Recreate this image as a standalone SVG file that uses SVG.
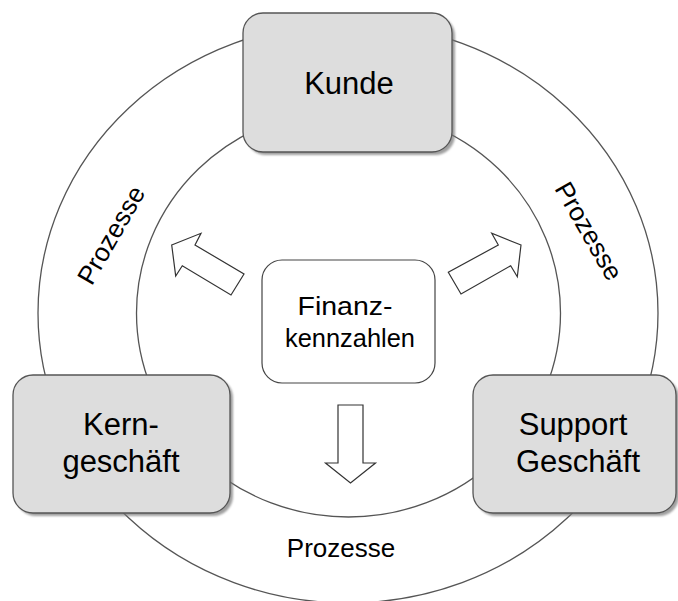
<svg xmlns="http://www.w3.org/2000/svg" width="678" height="601" viewBox="0 0 678 601">
<defs>
<style>
.ring{fill:none;stroke:#555;stroke-width:1.3}
.box{fill:#dddddd;stroke:#555;stroke-width:1.3}
.shadow{fill:#777;opacity:0.7}
.center{fill:#fff;stroke:#444;stroke-width:1.2}
.arrow{fill:#fff;stroke:#333;stroke-width:1.2;stroke-linejoin:miter}
text{font-family:"Liberation Sans",Arial,sans-serif;fill:#000;text-anchor:middle}
.big{font-size:31px}
.mid{font-size:25px}
.proc{font-size:26px}
</style>
<filter id="blur" x="-10%" y="-10%" width="120%" height="120%"><feGaussianBlur stdDeviation="1.2"/></filter>
</defs>
<rect width="678" height="601" fill="#fff"/>
<g id="rings">
<ellipse class="ring" cx="348" cy="313" rx="310" ry="290"/>
<ellipse class="ring" cx="348.5" cy="313" rx="212" ry="204"/>
</g>
<g id="labels">
<text class="proc" transform="translate(111,235) rotate(-60)" y="9">Prozesse</text>
<text class="proc" transform="translate(589,231) rotate(60)" y="9">Prozesse</text>
<text class="proc" x="341" y="557">Prozesse</text>
</g>
<g id="connectors">
<polygon class="arrow" points="171.7,245 201,233.3 195,245 244,274 231,295 182.3,265.7 175.7,276"/>
<polygon class="arrow" points="521,245 491.7,233.3 498.3,245 448.3,272.3 461,294 510.7,265.7 517.3,276.7"/>
<polygon class="arrow" points="338,405 363,405 363,463 375.5,463 350.5,483 325.5,463 338,463"/>
</g>
<g id="kunde">
<rect class="shadow" x="246" y="16" width="209" height="139" rx="20" filter="url(#blur)"/>
<rect class="box" x="243" y="13" width="209" height="139" rx="20"/>
<text class="big" x="349" y="94">Kunde</text>
</g>
<g id="kerngeschaeft">
<rect class="shadow" x="16" y="378" width="217" height="138" rx="20" filter="url(#blur)"/>
<rect class="box" x="13" y="375" width="217" height="138" rx="20"/>
<text class="big" x="121" y="435">Kern-</text>
<text class="big" x="121" y="472">geschäft</text>
</g>
<g id="support">
<rect class="shadow" x="476" y="378" width="203" height="138" rx="20" filter="url(#blur)"/>
<rect class="box" x="473" y="375" width="203" height="138" rx="20"/>
<text class="big" x="573" y="435">Support</text>
<text class="big" x="578" y="472">Geschäft</text>
</g>
<g id="finanzkennzahlen">
<rect class="center" x="262" y="260" width="173" height="123" rx="20"/>
<text class="mid" x="345" y="315" textLength="95" lengthAdjust="spacingAndGlyphs">Finanz-</text>
<text class="mid" x="350" y="347" textLength="130" lengthAdjust="spacingAndGlyphs">kennzahlen</text>
</g>
</svg>
